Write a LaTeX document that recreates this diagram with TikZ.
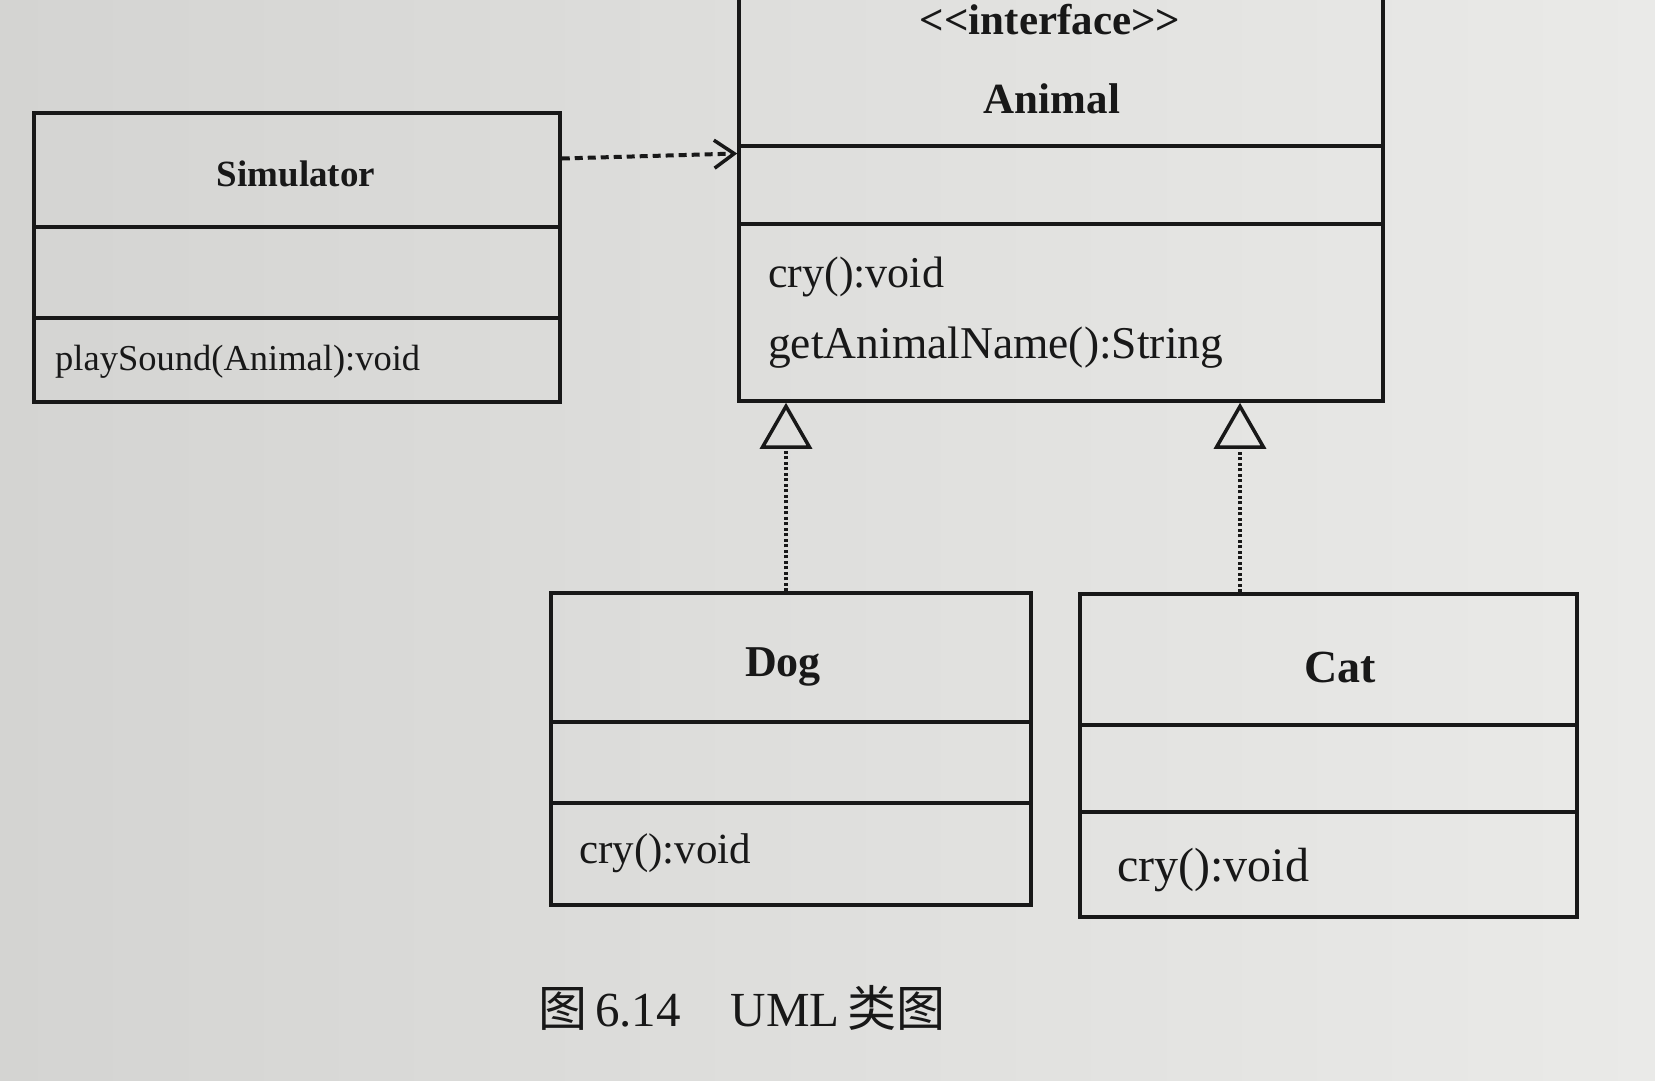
\documentclass[tikz,border=0pt]{standalone}
\usepackage{fontspec}
\setmainfont{Liberation Serif}[Ligatures=NoCommon]
\newfontfamily\cjk{Noto Sans CJK SC}
\usetikzlibrary{arrows.meta}
\definecolor{ink}{RGB}{24,24,24}
\definecolor{paperL}{RGB}{212,212,210}
\definecolor{paperR}{RGB}{234,234,232}
\tikzset{
 classbox/.style={draw=ink, line width=3.5pt, rectangle, inner sep=0pt},
 divider/.style={draw=ink, line width=3.5pt},
 title/.style={text=ink, font=\bfseries\fontsize{#1}{#1}\selectfont, inner sep=0pt},
 member/.style={text=ink, anchor=west, font=\fontsize{#1}{#1}\selectfont, inner sep=0pt},
 depend/.style={draw=ink, line width=4pt, dash pattern=on 8pt off 5pt, -{Straight Barb[length=20pt,width=28pt,line width=3.5pt]}},
 realize/.style={draw=ink, line width=3.5pt, dash pattern=on 3pt off 2.5pt, -{Triangle[open,length=46pt,width=52pt,line width=3.5pt]}},
}
\begin{document}
\begin{tikzpicture}[x=1pt,y=-1pt]
\useasboundingbox (0,0) rectangle (1655,1080);
\clip (0,0) rectangle (1655,1080);
\shade[left color=paperL, right color=paperR] (0,0) rectangle (1655,1080);

% Simulator
\node[classbox, minimum width=526pt, minimum height=289pt] (sim) at (297,257.5) {};
\draw[divider] (34,227) -- (560,227);
\draw[divider] (34,318) -- (560,318);
\node[title=37] (simt) at (296,174) {Simulator};
\node[member=36.5] (simm) at (55,362) {playSound(Animal):void};

% Animal
\node[classbox, minimum width=644pt, minimum height=441pt] (animal) at (1061,180.5) {};
\draw[divider] (739,146) -- (1383,146);
\draw[divider] (739,224) -- (1383,224);
\node[title=43] (animals) at (1050,20) {{<}{<}interface{>}{>}};
\node[title=43] (animalt) at (1052,99) {Animal};
\node[member=44] (animalm1) at (768,277) {cry():void};
\node[member=45.5] (animalm2) at (768,348) {getAnimalName():String};

% Dog
\node[classbox, minimum width=480pt, minimum height=312pt] (dog) at (791,749) {};
\draw[divider] (551,722) -- (1031,722);
\draw[divider] (551,803) -- (1031,803);
\node[title=44] (dogt) at (783,667) {Dog};
\node[member=43] (dogm) at (579,853) {cry():void};

% Cat
\node[classbox, minimum width=497pt, minimum height=323pt] (cat) at (1328.5,755.5) {};
\draw[divider] (1080,725) -- (1577,725);
\draw[divider] (1080,812) -- (1577,812);
\node[title=46] (catt) at (1340,667) {Cat};
\node[member=48] (catm) at (1117,870) {cry():void};

% connectors
\draw[depend] ([yshift=99pt]sim.east) -- ([yshift=27pt]animal.west);
\draw[realize] ([xshift=-5pt]dog.north) -- ([xshift=-275pt]animal.south);
\draw[realize] ([xshift=-88.5pt]cat.north) -- ([xshift=179pt]animal.south);

% caption
\node[text=ink, font=\fontsize{49}{49}\selectfont, inner sep=0pt] (cap) at (742,1008)
  {{\cjk 图}\,6.14\hspace{50pt}UML\,{\cjk 类图}};
\end{tikzpicture}
\end{document}
